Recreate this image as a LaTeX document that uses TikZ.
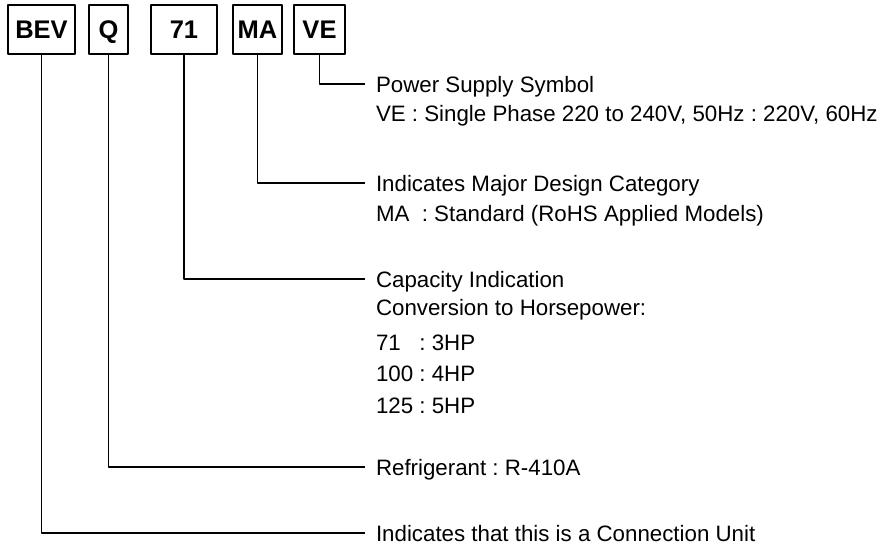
\documentclass[tikz,border=0pt]{standalone}
\usepackage{fontspec}
\setmainfont{Liberation Sans}
\usetikzlibrary{positioning}
\frenchspacing
\begin{document}
\begin{tikzpicture}[x=1pt,y=-1pt,line join=round,line width=1.2pt,
    codebox/.style={draw,minimum height=49pt,inner sep=0pt,text height=18.3pt,text depth=0pt,font=\fontsize{25.5}{26}\selectfont\bfseries},
    desc/.style={anchor=west,inner sep=0pt,outer xsep=11pt,outer ysep=0pt,text height=16pt,text depth=0pt,font=\fontsize{22.3}{24}\selectfont}]
                \useasboundingbox (0,0) rectangle (893,551);
                \def\mytop{29.5}\def\mylx{365}
                % code letters
                \node[codebox,minimum width=67pt] (nbev) at (41.5,\mytop) {BEV};
                \node[codebox,minimum width=39pt] (nq) at (108.5,\mytop) {Q};
                \node[codebox,minimum width=66pt] (nsf) at (184,\mytop) {71};
                \node[codebox,minimum width=49pt] (nma) at (257.5,\mytop) {MA};
                \node[codebox,minimum width=51pt] (nve) at (319.5,\mytop) {VE};
                % descriptions
                \node[desc] (tvea) at (\mylx,84) {Power Supply Symbol};
                \node[desc] (tveb) at (\mylx,113) {VE : Single Phase 220 to 240V, 50Hz : 220V, 60Hz};
                \node[desc] (tmaa) at (\mylx,183) {Indicates Major Design Category};
                \node[desc] (tmab) at (\mylx,213) {MA\ \ : Standard (RoHS Applied Models)};
                \node[desc] (tsfa) at (\mylx,279) {Capacity Indication};
                \node[desc] (tsfb) at (\mylx,307.5) {Conversion to Horsepower:};
                \node[desc] (tsfc) at (\mylx,342.5) {\makebox[1.668em][l]{71} : 3HP};
                \node[desc] (tsfd) at (\mylx,373.5) {100 : 4HP};
                \node[desc] (tsfe) at (\mylx,405) {125 : 5HP};
                \node[desc] (tqa) at (\mylx,467) {Refrigerant : R-410A};
                \node[desc] (tbeva) at (\mylx,533) {Indicates that this is a Connection Unit};
                % leaders
                \draw (nve) |- (tvea);
                \draw (nma) |- (tmaa);
                \draw (nsf) |- (tsfa);
                \draw (nq) |- (tqa);
                \draw (nbev) |- (tbeva);
            \end{tikzpicture}
\end{document}
